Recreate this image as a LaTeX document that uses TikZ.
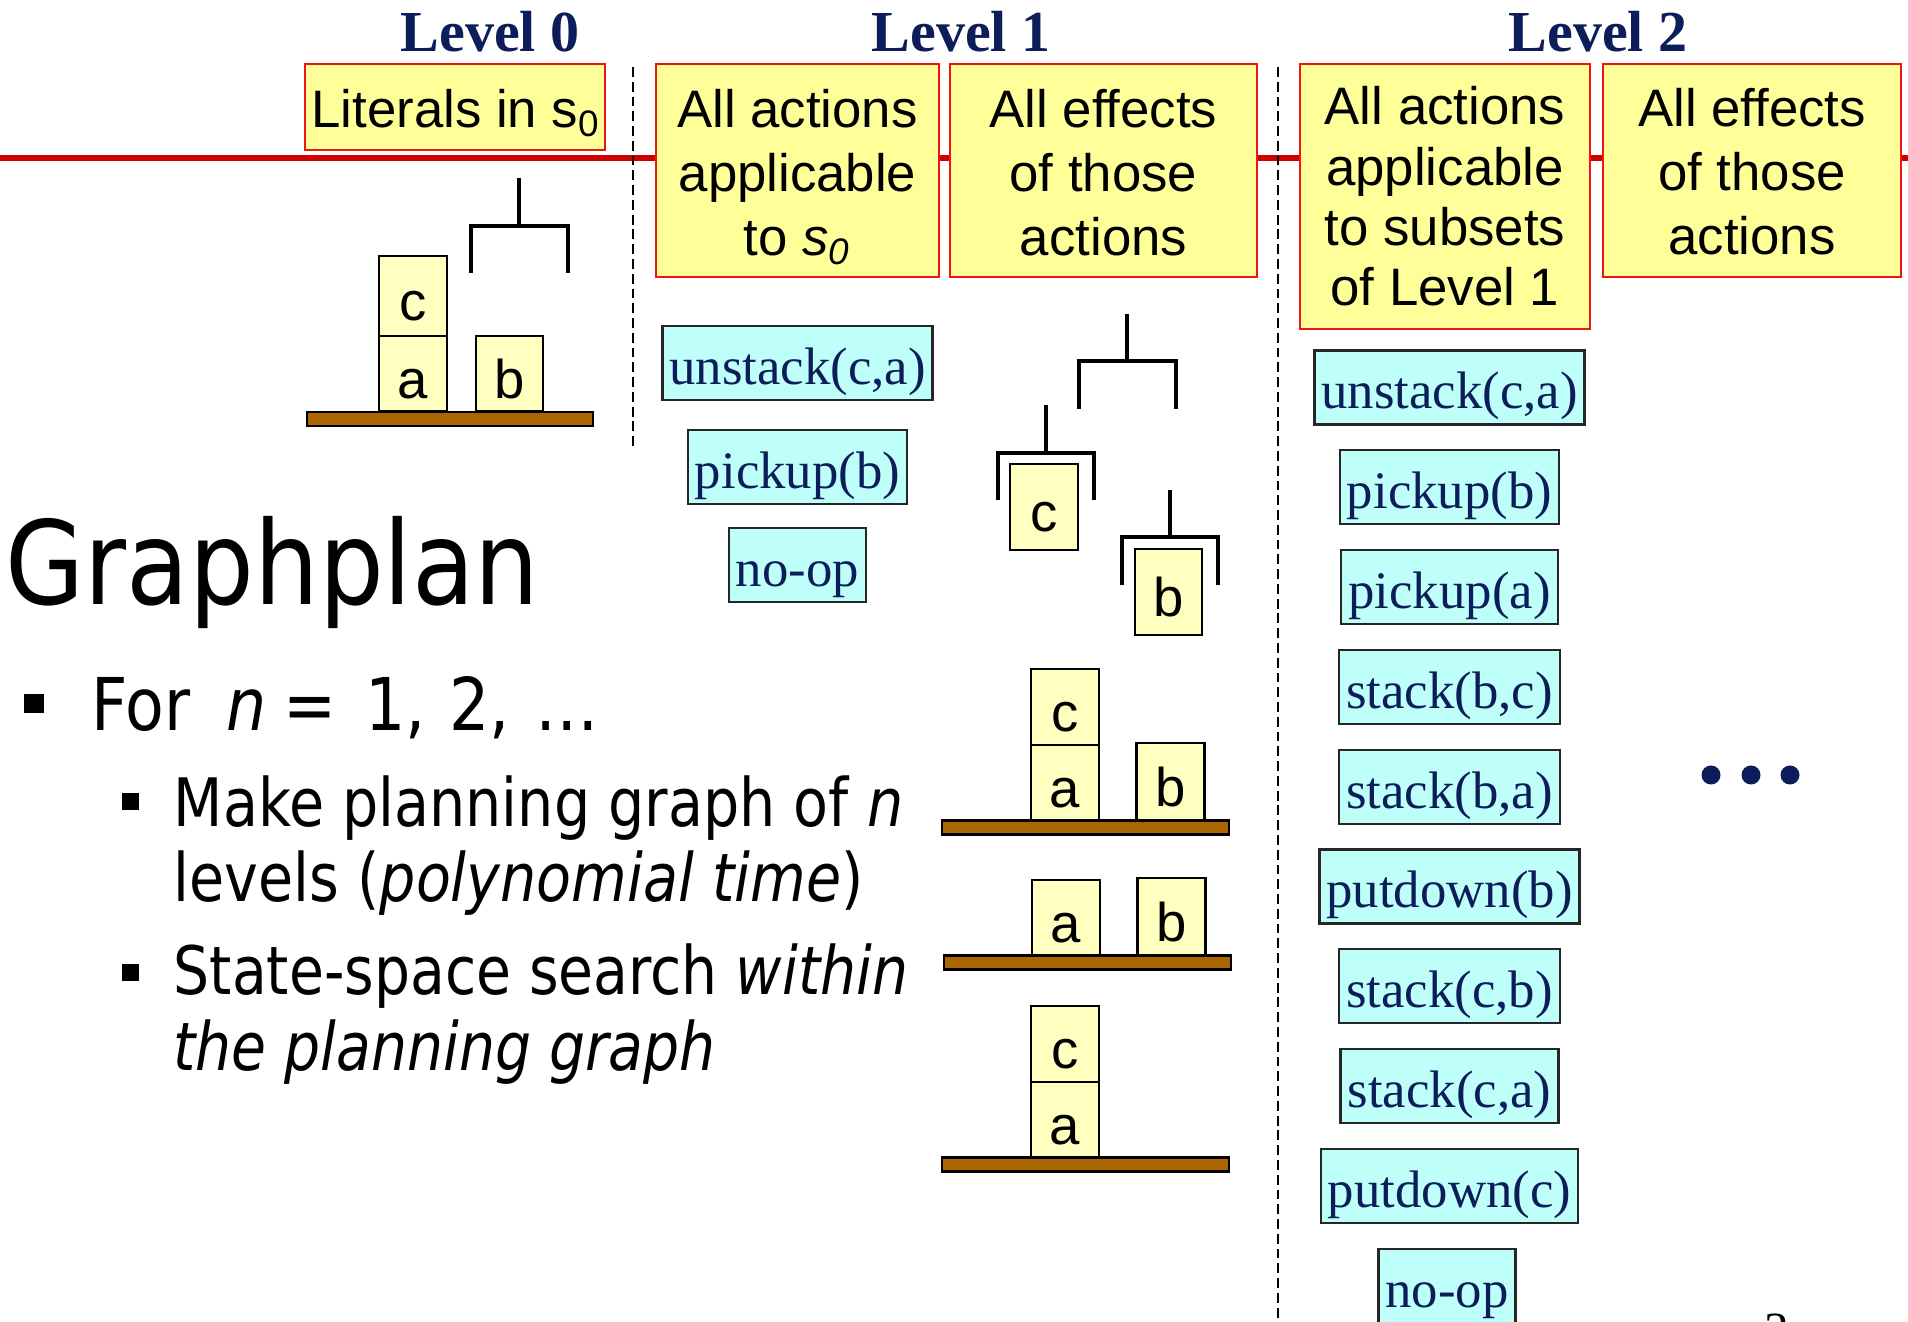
\documentclass[tikz,border=0pt]{standalone}
\usepackage{fontspec}
\setmainfont{Liberation Serif}
\newfontfamily\arialf{Liberation Sans}
\newfontfamily\slidef{DejaVu Sans}
\definecolor{navy}{RGB}{12,30,90}
\definecolor{hdrfill}{RGB}{255,255,153}
\definecolor{hdrline}{RGB}{240,20,20}
\definecolor{redrule}{RGB}{208,0,0}
\definecolor{actfill}{RGB}{190,255,250}
\definecolor{blkfill}{RGB}{255,255,192}
\definecolor{tablefill}{RGB}{170,102,0}
\tikzset{
  hdrbox/.style={draw=hdrline, line width=0.7pt, fill=hdrfill, inner sep=0pt},
  % multi-line labels are placed by the baseline of their last line
  hdrtext/.style={font=\arialf\fontsize{15}{18.2}\selectfont, align=center, anchor=base, inner sep=0pt},
  levelhead/.style={font=\bfseries\fontsize{16.5}{20}\selectfont, text=navy, anchor=base, inner sep=0pt},
  act/.style={draw=black!85, line width=0.7pt, fill=actfill, text=navy,
    font=\fontsize{15}{18}\selectfont, minimum height=0.74cm, inner xsep=2pt, inner ysep=0pt,
    text height=0.58cm, text depth=0.16cm},
  blk/.style={draw=black, line width=0.8pt, fill=blkfill, font=\arialf\fontsize{15.5}{18}\selectfont,
    minimum width=0.68cm, inner sep=0pt, text height=0.62cm, text depth=0.13cm},
  tabletop/.style={draw=black, line width=0.8pt, fill=tablefill, minimum height=0.14cm,
    minimum width=2.87cm, inner sep=0pt},
  hand/.style={line width=1.15pt},
  sep/.style={dash pattern=on 2.8pt off 1.4pt, line width=0.6pt},
  bsq/.style={fill=black, inner sep=0pt},
  dot/.style={circle, fill=navy, inner sep=0pt, minimum size=0.19cm},
  slidetext/.style={anchor=base west, inner sep=0pt},
}
\begin{document}
\begin{tikzpicture}[x=0.01cm, y=-0.01cm]
\useasboundingbox[fill=white] (0,0) rectangle (1908,1322);

% level rule
\coordinate (ruleL) at (0,158);
\coordinate (ruleR) at (1908,158);
\draw[redrule, line width=1.6pt] (ruleL) -- (ruleR);

% level separators
\coordinate (s1t) at (633,67);
\coordinate (s1b) at (633,450);
\coordinate (s2t) at (1278,67);
\coordinate (s2b) at (1278,1322);
\draw[sep] (s1t) -- (s1b);
\draw[sep] (s2t) -- (s2b);

% level titles
\node[levelhead] (lv0) at (490,52) {Level 0};
\node[levelhead] (lv1) at (961,52) {Level 1};
\node[levelhead] (lv2) at (1598,52) {Level 2};

% header boxes
\node[hdrbox, minimum width=3.00cm, minimum height=0.86cm] (lit) at (455,107) {};
\node[hdrtext] (litT) at (456,128) {Literals in s\textsubscript{0}};
\node[hdrbox, minimum width=2.83cm, minimum height=2.13cm] (a1) at (797.5,170.5) {};
\node[hdrtext] (a1T) at (797.5,256) {All actions\\applicable\\to \textit{s}\textsubscript{\textit{0}}};
\node[hdrbox, minimum width=3.07cm, minimum height=2.13cm] (e1) at (1103.5,170.5) {};
\node[hdrtext] (e1T) at (1103.5,256) {All effects\\of those\\actions};
\node[hdrbox, minimum width=2.90cm, minimum height=2.65cm] (a2) at (1445,196.5) {};
\node[hdrtext, font=\arialf\fontsize{15}{17.2}\selectfont] (a2T) at (1445,306) {All actions\\applicable\\to subsets\\of Level 1};
\node[hdrbox, minimum width=2.98cm, minimum height=2.13cm] (e2) at (1752,170.5) {};
\node[hdrtext] (e2T) at (1752,255) {All effects\\of those\\actions};

% level 0 state
\node[blk, minimum height=0.80cm] (c0) at (413,296) {c};
\node[blk, minimum height=0.75cm] (a0) at (413,373.5) {a};
\node[blk, minimum height=0.75cm, minimum width=0.67cm] (b0) at (509.5,373.5) {b};
\node[tabletop, minimum width=2.86cm] (t0) at (450,419) {};
\draw[hand] (471,273) -- (471,226) -- (568,226) -- (568,273);
\draw[hand] (519,178) -- (519,226);

% level 1 actions
\node[act, minimum width=2.69cm] (u1) at (797.5,363) {unstack(c,a)};
\node[act, minimum width=2.17cm] (p1) at (797.5,467) {pickup(b)};
\node[act, minimum width=1.35cm] (n1) at (797.5,565) {no-op};

% level 1 effects: hands
\draw[hand] (1079,409) -- (1079,361) -- (1176,361) -- (1176,409);
\draw[hand] (1127,314) -- (1127,361);
\node[blk, minimum height=0.86cm] (ch) at (1044,507) {c};
\draw[hand] (998,500) -- (998,453) -- (1094,453) -- (1094,500);
\draw[hand] (1046,405) -- (1046,453);
\node[blk, minimum height=0.86cm, minimum width=0.67cm] (bh) at (1168.5,592) {b};
\draw[hand] (1122,585) -- (1122,537) -- (1218,537) -- (1218,585);
\draw[hand] (1170,490) -- (1170,537);

% level 1 effects: states
\node[blk, minimum height=0.76cm] (c1) at (1065,707) {c};
\node[blk, minimum height=0.75cm] (a1b) at (1065,782.5) {a};
\node[blk, minimum height=0.77cm] (b1) at (1170.5,781.5) {b};
\node[tabletop] (t1) at (1085.5,827.5) {};

\node[blk, minimum height=0.75cm] (a2b) at (1066,917.5) {a};
\node[blk, minimum height=0.77cm] (b2) at (1171.5,916.5) {b};
\node[tabletop] (t2) at (1087.5,962.5) {};

\node[blk, minimum height=0.76cm] (c3) at (1065,1044) {c};
\node[blk, minimum height=0.75cm] (a3) at (1065,1119.5) {a};
\node[tabletop] (t3) at (1085.5,1164.5) {};

% level 2 actions
\node[act, minimum width=2.69cm] (q1) at (1449.5,387.5) {unstack(c,a)};
\node[act, minimum width=2.18cm] (q2) at (1449.5,487) {pickup(b)};
\node[act, minimum width=2.17cm] (q3) at (1449.5,587) {pickup(a)};
\node[act, minimum width=2.18cm] (q4) at (1449.5,687) {stack(b,c)};
\node[act, minimum width=2.18cm] (q5) at (1449.5,787) {stack(b,a)};
\node[act, minimum width=2.59cm] (q6) at (1449.5,886.5) {putdown(b)};
\node[act, minimum width=2.18cm] (q7) at (1449.5,986) {stack(c,b)};
\node[act, minimum width=2.18cm] (q8) at (1449.5,1086) {stack(c,a)};
\node[act, minimum width=2.55cm] (q9) at (1449.5,1186) {putdown(c)};
\node[act, minimum width=1.34cm] (q10) at (1447,1286) {no-op};

% continuation
\node[dot] (d1) at (1711,775) {};
\node[dot] (d2) at (1751,775) {};
\node[dot] (d3) at (1790,775) {};

% page number
\node[anchor=north, inner sep=0pt, font=\fontsize{14}{16}\selectfont] (pgno) at (1777,1313) {3};

% slide text
\node[slidetext] (title) at (5,605) {\scalebox{0.88}[1]{\slidef\fontsize{33}{40}\selectfont Graphplan}};
\node[bsq, minimum width=0.20cm, minimum height=0.19cm] (bl1) at (34,703.5) {};
\node[slidetext] (it1) at (91,731) {\scalebox{0.87}[1]{\slidef\fontsize{20.7}{24}\selectfont For\hspace{5pt} \textit{n}\hspace{-1pt} = \hspace{3pt}1,\hspace{1pt} 2,\hspace{2pt} \dots}};
\node[bsq, minimum width=0.17cm, minimum height=0.17cm] (bl2) at (130.5,801.5) {};
\node[slidetext] (it2) at (173,827) {\scalebox{0.855}[1]{\slidef\fontsize{19}{21.3}\selectfont\begin{tabular}[t]{@{}l@{}}Make planning graph of \textit{n}\\levels (\textit{polynomial time})\end{tabular}}};
\node[bsq, minimum width=0.17cm, minimum height=0.17cm] (bl3) at (130.5,972.5) {};
\node[slidetext] (it3) at (173,995) {\scalebox{0.85}[1]{\slidef\fontsize{19}{21.6}\selectfont\begin{tabular}[t]{@{}l@{}}State-space search \textit{within}\\\textit{the planning graph}\end{tabular}}};
\end{tikzpicture}
\end{document}
